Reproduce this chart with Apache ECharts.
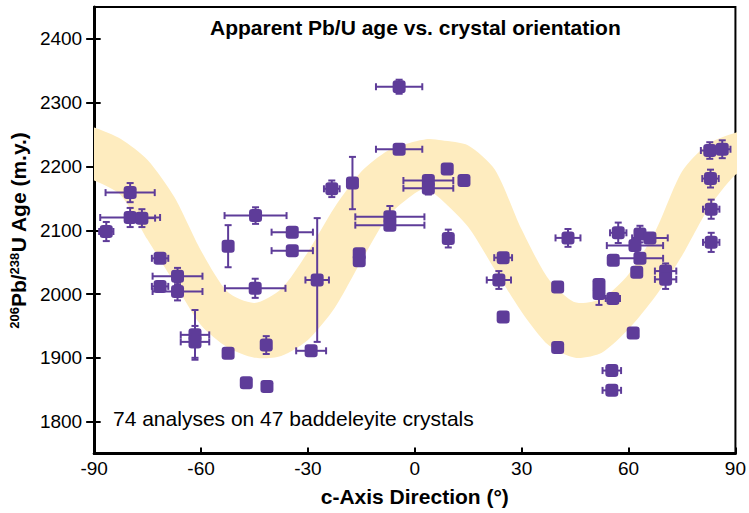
<!DOCTYPE html>
<html>
<head>
<meta charset="utf-8">
<script src="https://cdn.jsdelivr.net/npm/echarts@6/dist/echarts.min.js"></script>
<style>html,body{margin:0;padding:0;background:#fff}#c{width:749px;height:513px}</style>
</head>
<body>
<div id="c"></div>
<script>
// ---------- data ----------
const xTicks = [-90, -60, -30, 0, 30, 60, 90];
const yTicks = [1800, 1900, 2000, 2100, 2200, 2300, 2400];

// analyses: c-axis direction (deg), apparent age (m.y.), and error half-widths
const angle    = [-86.6,-79.9,-79.9,-76.6,-44.7,-52.4,-34.4,-34.4,-23.3,-17.5,-15.6,-15.6,-4.4,-4.4,-7.0,-7.0,-27.4,-44.8,-29.1,-41.7,-41.5,-47.3,-71.5,-66.6,-71.5,-66.6,-61.7,-61.7,-52.4,3.8,3.8,9.1,13.8,9.4,43.0,24.8,23.6,24.8,40.1,40.1,55.7,63.2,62.3,70.4,70.4,51.7,51.7,55.6,61.3,55.3,55.3,57.1,63.2,66.0,61.8,82.8,86.3,83.0,83.2,83.2];
const age      = [2098,2159,2120,2119,2123,2075,2097,2068,2165,2174,2063,2052,2325,2227,2121,2108,2022,2009,1911,1920,1855,1861,2056,2028,2012,2004,1936,1925,1907,2178,2166,2196,2178,2087,2088,2057,2022,1964,2011,1916,2053,2056,2034,2036,2023,2015,2001,1993,1939,1880,1849,2096,2094,2088,2076,2225,2227,2181,2133,2081];
const angleErr = [2.0,6.9,8.4,3.7,8.7,0,5.8,5.8,2.2,0,0,0,6.5,6.5,9.7,9.7,3.3,8.5,4.2,0,0,0,2.3,7.0,2.3,7.0,4.0,4.0,0,7.0,7.0,0,0,0,3.5,2.5,3.4,0,0,0,0,6.5,0,3.0,3.0,0,0,2.0,0,2.6,2.6,2.3,0,5.0,7.9,2.5,2.3,2.3,2.3,2.3];
const ageErr   = [15,15,15,14,13,33,0,0,13,41,0,0,11,0,17,0,97,15,0,14,0,0,0,13,0,14,39,25,0,0,10,0,0,14,14,0,14,0,0,0,0,0,0,12,15,0,18,0,0,0,0,16,13,0,0,13,14,14,15,15];

// shaded sinusoidal band, read along its upper and lower edges
const bandUpperAngle = [-95,-90,-82.5,-75,-67.5,-60,-52.5,-45,-37.5,-30,-22.5,-15,-7.5,0,4,7.5,15,22.5,30,37.5,45,52.5,60,67.5,75,82.5,90,95];
const bandUpperAge   = [2266,2261,2243,2210,2152,2068,2003,1986,2008,2066,2136,2192,2225,2239,2243,2241,2233,2195,2101,2024,1987,1993,2031,2098,2192,2236,2253,2258];
const bandLowerAngle = [-95,-90,-82.5,-75,-67.5,-60,-52.5,-45,-37.5,-30,-22.5,-15,-7.5,0,3,7.5,15,22.5,30,37.5,45,52.5,60,67.5,75,82.5,90,95];
const bandLowerAge   = [2185,2178,2155,2085,2018,1951,1916,1900,1903,1928,1978,2052,2122,2158,2165,2148,2105,2038,1972,1920,1900,1908,1945,1996,2060,2135,2187,2200];

// ---------- styles ----------
const purple = '#5e3c99';
const bandColor = '#feecbf';
const FONT = '"Liberation Sans", Arial, Helvetica, sans-serif';

const points = angle.map((a, i) => [a, age[i]]);
const errData = angle.map((a, i) => [a, age[i], angleErr[i], ageErr[i]]);

const chart = echarts.init(document.getElementById('c'), null, {renderer: 'svg'});

chart.setOption({
  animation: false,
  backgroundColor: '#fff',
  title: [
    {
      text: 'Apparent Pb/U age vs. crystal orientation',
      left: 205, top: 12,
      textStyle: {fontFamily: FONT, fontSize: 21, fontWeight: 'bold', color: '#000'}
    },
    {
      text: '74 analyses on 47 baddeleyite crystals',
      left: 108, top: 403,
      textStyle: {fontFamily: FONT, fontSize: 21, fontWeight: 'normal', color: '#000'}
    }
  ],
  grid: {
    left: 93.5, right: 11, top: 7, bottom: 59.5,
    show: true, borderColor: '#000', borderWidth: 2, containLabel: false
  },
  xAxis: {
    type: 'value', min: -90, max: 90, interval: 30,
    name: 'c-Axis Direction (°)', nameLocation: 'middle', nameGap: 32,
    nameTextStyle: {fontFamily: FONT, fontSize: 21, fontWeight: 'bold', color: '#000'},
    axisLine: {show: true, onZero: false, lineStyle: {color: '#000', width: 3}},
    axisTick: {show: true, inside: true, length: 6, customValues: xTicks, lineStyle: {color: '#000', width: 2}},
    axisLabel: {fontFamily: FONT, fontSize: 19, color: '#000', margin: 5, customValues: xTicks, formatter: v => String(v)},
    splitLine: {show: false}
  },
  yAxis: [
    {
      type: 'value', min: 1750, max: 2450,
      name: '{s|206}{b|Pb/}{s|238}{b|U Age (m.y.)}',
      nameLocation: 'middle', nameGap: 64,
      nameTextStyle: {
        rich: {
          b: {fontFamily: FONT, fontSize: 21, fontWeight: 'bold', color: '#000'},
          s: {fontFamily: FONT, fontSize: 13, fontWeight: 'bold', color: '#000', verticalAlign: 'top'}
        }
      },
      axisLine: {show: true, onZero: false, lineStyle: {color: '#000', width: 3}},
      axisTick: {show: true, inside: false, length: 8, customValues: yTicks, lineStyle: {color: '#000', width: 2}},
      axisLabel: {fontFamily: FONT, fontSize: 19, color: '#000', margin: 12, customValues: yTicks, formatter: v => String(v)},
      splitLine: {show: false}
    },
    {
      type: 'value', min: 1750, max: 2450, position: 'left',
      axisLine: {show: false, onZero: false},
      axisTick: {show: true, inside: true, length: 6.5, customValues: yTicks, lineStyle: {color: '#000', width: 2}},
      axisLabel: {show: false},
      splitLine: {show: false}
    }
  ],
  series: [
    {
      type: 'custom',
      name: 'band',
      clip: true,
      silent: true,
      z: 1,
      data: [[0, 2000]],
      renderItem: function (params, api) {
        const pts = [];
        for (let i = 0; i < bandUpperAngle.length; i++) {
          pts.push(api.coord([bandUpperAngle[i], bandUpperAge[i]]));
        }
        for (let i = bandLowerAngle.length - 1; i >= 0; i--) {
          pts.push(api.coord([bandLowerAngle[i], bandLowerAge[i]]));
        }
        return {
          type: 'polygon',
          shape: {points: pts, smooth: 0.25},
          style: {fill: bandColor, stroke: null}
        };
      }
    },
    {
      type: 'custom',
      name: 'errors',
      z: 3,
      silent: true,
      data: errData,
      renderItem: function (params, api) {
        const x = api.value(0), y = api.value(1), ex = api.value(2), ey = api.value(3);
        const c = api.coord([x, y]);
        const st = {stroke: purple, lineWidth: 2};
        const cap = 3.5;
        const ch = [];
        if (ex > 0) {
          const l = api.coord([x - ex, y])[0], r = api.coord([x + ex, y])[0];
          ch.push({type: 'line', shape: {x1: l, y1: c[1], x2: r, y2: c[1]}, style: st});
          ch.push({type: 'line', shape: {x1: l, y1: c[1] - cap, x2: l, y2: c[1] + cap}, style: st});
          ch.push({type: 'line', shape: {x1: r, y1: c[1] - cap, x2: r, y2: c[1] + cap}, style: st});
        }
        if (ey > 0) {
          const t = api.coord([x, y + ey])[1], b = api.coord([x, y - ey])[1];
          ch.push({type: 'line', shape: {x1: c[0], y1: t, x2: c[0], y2: b}, style: st});
          ch.push({type: 'line', shape: {x1: c[0] - cap, y1: t, x2: c[0] + cap, y2: t}, style: st});
          ch.push({type: 'line', shape: {x1: c[0] - cap, y1: b, x2: c[0] + cap, y2: b}, style: st});
        }
        return {type: 'group', children: ch};
      }
    },
    {
      type: 'scatter',
      name: 'analyses',
      z: 4,
      symbol: 'roundRect',
      symbolSize: 13,
      itemStyle: {color: purple, opacity: 1},
      data: points
    }
  ]
});
</script>
</body>
</html>
